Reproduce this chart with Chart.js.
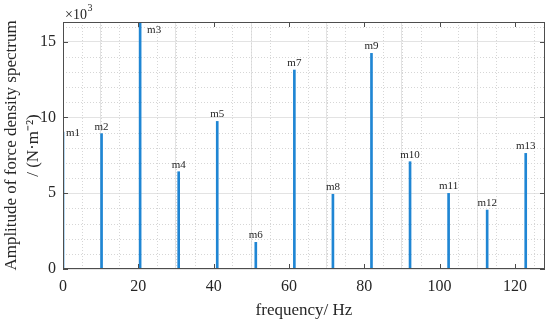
<!DOCTYPE html>
<html lang="en">
<head>
<meta charset="UTF-8">
<title>Force density spectrum</title>
<script src="https://cdn.jsdelivr.net/npm/chart.js"></script>
<style>
    html, body { margin: 0; padding: 0; background: #fff; }
    #wrap { width: 550px; height: 321px; }
</style>
</head>
<body>
<div id="wrap"><canvas id="spectrum"></canvas></div>
<script>
    // order labels and the spectrum peaks
    const orders = ['m1', 'm2', 'm3', 'm4', 'm5', 'm6', 'm7', 'm8', 'm9', 'm10', 'm11', 'm12', 'm13'];
    const freqs = [0, 10.24, 20.48, 30.72, 40.96, 51.2, 61.44, 71.68, 81.92, 92.16, 102.4, 112.64, 122.88];
    const amps = [9040, 8930, 16300, 6420, 9740, 1760, 13130, 4930, 14230, 7080, 4990, 3890, 7630];
    const xTicks = [0, 20, 40, 60, 80, 100, 120];
    const yTicks = [0, 5000, 10000, 15000];

    const serif = '"Liberation Serif", "Times New Roman", serif';
    const axisColor = '#4d4d4d';
    const textColor = '#262626';

    // dotted minor grid, box frame and inward tick marks (MATLAB look)
    const frame = {
        id: 'frame',
        beforeDatasetsDraw(chart) {
            const { ctx, chartArea: a, scales: { x, y } } = chart;
            ctx.save();
            ctx.strokeStyle = '#d6d6d6';
            ctx.lineWidth = 1;
            ctx.setLineDash([1, 2]);
            for (let v = 5; v < x.max; v += 5) {
                if (v % 20 === 0) continue;
                const px = Math.round(x.getPixelForValue(v)) + 0.5;
                ctx.beginPath();
                ctx.moveTo(px, a.top);
                ctx.lineTo(px, a.bottom);
                ctx.stroke();
            }
            for (let v = 1000; v < y.max; v += 1000) {
                if (v % 5000 === 0) continue;
                const py = Math.round(y.getPixelForValue(v)) + 0.5;
                ctx.beginPath();
                ctx.moveTo(a.left, py);
                ctx.lineTo(a.right, py);
                ctx.stroke();
            }
            ctx.restore();
        },
        afterDatasetsDraw(chart) {
            const { ctx, chartArea: a, scales: { x, y } } = chart;
            const len = 5;
            ctx.save();
            ctx.strokeStyle = axisColor;
            ctx.lineWidth = 1;
            ctx.strokeRect(Math.round(a.left) + 0.5, Math.round(a.top) + 0.5,
                Math.round(a.right - a.left) - 1, Math.round(a.bottom - a.top) - 1);
            ctx.beginPath();
            xTicks.forEach(v => {
                const px = Math.round(x.getPixelForValue(v)) + 0.5;
                ctx.moveTo(px, a.bottom); ctx.lineTo(px, a.bottom - len);
                ctx.moveTo(px, a.top); ctx.lineTo(px, a.top + len);
            });
            yTicks.forEach(v => {
                const py = Math.round(y.getPixelForValue(v)) + 0.5;
                ctx.moveTo(a.left, py); ctx.lineTo(a.left + len, py);
                ctx.moveTo(a.right, py); ctx.lineTo(a.right - len, py);
            });
            ctx.stroke();

            // stem labels
            ctx.font = '11px ' + serif;
            ctx.fillStyle = textColor;
            const meta = chart.getDatasetMeta(0);
            meta.data.forEach((bar, i) => {
                const text = orders[i];
                const w = ctx.measureText(text).width;
                let tx = bar.x - w / 2;
                let ty = bar.y - 4;
                if (ty - 9 < a.top) {
                    tx = bar.x + 7;
                    ty = bar.y + 11;
                } else if (tx < a.left + 2) {
                    tx = a.left + 3;
                    ty = bar.y + 4;
                }
                ctx.fillText(text, tx, ty);
            });

            // exponent label
            ctx.font = '14px ' + serif;
            ctx.fillText('\u00d710', a.left + 2, a.top - 3.5);
            const w10 = ctx.measureText('\u00d710').width;
            ctx.font = '10px ' + serif;
            ctx.fillText('3', a.left + 2 + w10 + 0.5, a.top - 11);
            ctx.restore();
        }
    };

    const ctx = document.getElementById('spectrum').getContext('2d');
    new Chart(ctx, {
        type: 'bar',
        data: {
            datasets: [{
                data: freqs.map((f, i) => ({ x: f, y: amps[i] })),
                backgroundColor: '#1f86d4',
                barThickness: 2
            }]
        },
        options: {
            responsive: true,
            maintainAspectRatio: false,
            animation: false,
            layout: { padding: { top: 22, right: 5, left: 0, bottom: 0 } },
            plugins: {
                legend: { display: false },
                tooltip: { enabled: false }
            },
            scales: {
                x: {
                    type: 'linear',
                    min: 0,
                    max: 128,
                    offset: false,
                    afterFit: s => { s.height = 52; },
                    afterBuildTicks: s => { s.ticks = xTicks.map(v => ({ value: v })); },
                    grid: { color: '#e3e3e3', drawTicks: false },
                    border: { display: false },
                    ticks: {
                        padding: 8,
                        color: textColor,
                        font: { family: serif, size: 16 }
                    },
                    title: {
                        display: true,
                        text: 'frequency/ Hz',
                        color: textColor,
                        font: { family: serif, size: 17 },
                        padding: { top: 0, bottom: 0 }
                    }
                },
                y: {
                    min: 0,
                    max: 16300,
                    afterFit: s => { s.width = 63; },
                    afterBuildTicks: s => { s.ticks = yTicks.map(v => ({ value: v })); },
                    grid: { color: '#e3e3e3', drawTicks: false },
                    border: { display: false },
                    ticks: {
                        padding: 7,
                        color: textColor,
                        font: { family: serif, size: 16 },
                        callback: v => v / 1000
                    },
                    title: {
                        display: true,
                        text: ['Amplitude of force density spectrum', '/ (N\u00b7m\u207b\u00b2)'],
                        color: textColor,
                        font: { family: serif, size: 17, lineHeight: 1.3 },
                        padding: { top: 0, bottom: 0 }
                    }
                }
            }
        },
        plugins: [frame]
    });
</script>
</body>
</html>
